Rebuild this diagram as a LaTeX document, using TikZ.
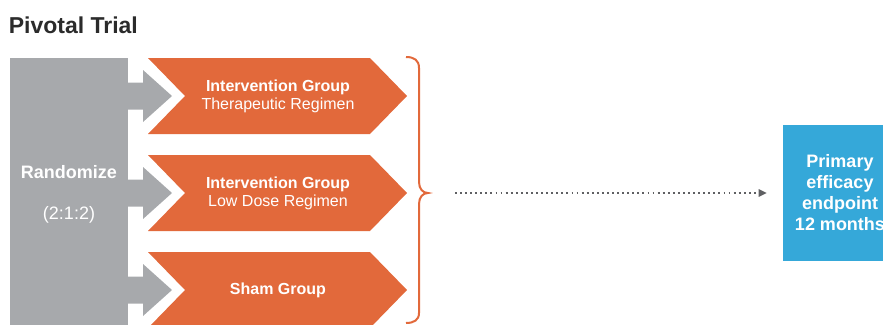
\documentclass[tikz,border=0pt]{standalone}
\usepackage{fontspec}
\setmainfont{Liberation Sans}
\usetikzlibrary{arrows.meta}
\definecolor{grayC}{HTML}{A7A9AC}
\definecolor{orangeC}{HTML}{E2693B}
\definecolor{blueC}{HTML}{35A8D9}
\definecolor{titleC}{HTML}{2B2B2B}
\definecolor{dotC}{HTML}{5F6063}
\tikzset{
  grouptext/.style={text=white, align=center, inner sep=0pt, font=\fontsize{12}{13.5}\selectfont},
  randtext/.style={text=white, inner sep=0pt, font=\fontsize{13.5}{15}\selectfont},
  endbox/.style={fill=blueC, text=white, align=center, inner sep=0pt,
    minimum width=85.5pt, minimum height=102pt, font=\bfseries\fontsize{13.5}{15.75}\selectfont},
  dotline/.style={draw=dotC, line width=1.5pt, dash pattern=on 1.4pt off 2.4pt,
    -{Triangle[length=6pt,width=5.5pt,fill=dotC]}},
  bracestyle/.style={draw=orangeC, line width=1.5pt}
}
\begin{document}
\begin{tikzpicture}[x=0.75pt,y=-0.75pt]
\useasboundingbox (0,0) rectangle (883,325);
\clip (0,0) rectangle (883,325);
% title
\node[anchor=base west, inner sep=0pt, text=titleC, font=\bfseries\fontsize{17.25}{20}\selectfont] (title) at (8.5,33) {Pivotal Trial};
% randomize block
\fill[grayC] (10,58) rectangle (128,330);
\foreach \c in {96,193,290} {
  \fill[grayC] (127,\c-13.5) -- (143,\c-13.5) -- (143,\c-26) -- (172,\c) -- (143,\c+26) -- (143,\c+13.5) -- (127,\c+13.5) -- cycle;
  \fill[orangeC] (148,\c-38) -- (370,\c-38) -- (407,\c) -- (370,\c+38) -- (148,\c+38) -- (185,\c) -- cycle;
}
\node[randtext, font=\bfseries\fontsize{13.5}{15}\selectfont] (rand) at (69,172) {Randomize};
\node[randtext] (ratio) at (69,215) {(2:1:2)};
% group labels
\node[grouptext] (g1) at (278,96) {\textbf{Intervention Group}\\Therapeutic Regimen};
\node[grouptext] (g2) at (278,193) {\textbf{Intervention Group}\\Low Dose Regimen};
\node[grouptext] (g3) at (278,290) {\textbf{Sham Group}};
% brace
\draw[bracestyle] (406,57) .. controls (414,57) and (419,60) .. (419,68) -- (419,182)
  .. controls (419,189) and (423,193) .. (428,193)
  .. controls (423,193) and (419,197) .. (419,204) -- (419,313)
  .. controls (419,320) and (414,323) .. (406,323);
\coordinate (bracetip) at (428,193);
% endpoint box
\node[endbox] (ep) at (840,193) {Primary\\efficacy\\endpoint\\12 months};
\coordinate (dotstart) at (455,193);
\draw[dotline] (dotstart) -- ([xshift=-12pt]ep.west);
\end{tikzpicture}
\end{document}
